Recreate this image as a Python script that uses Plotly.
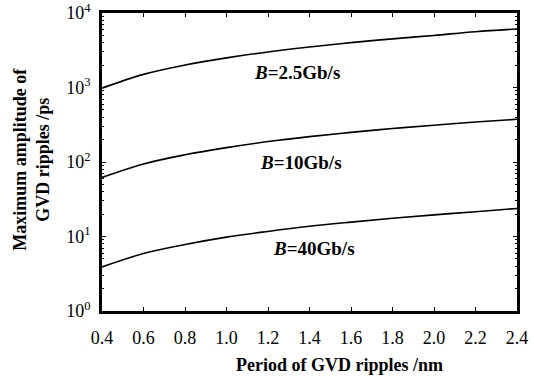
import math
import plotly.graph_objects as go

period = [0.4, 0.6, 0.8, 1.0, 1.2, 1.4, 1.6, 1.8, 2.0, 2.2, 2.4]
amp_2_5 = [980, 1500, 2000, 2500, 3000, 3500, 4000, 4500, 5000, 5600, 6100]
amp_10 = [62, 94, 125, 156, 188, 219, 250, 281, 312, 344, 375]
amp_40 = [3.9, 5.9, 7.8, 9.8, 11.7, 13.7, 15.6, 17.6, 19.5, 21.5, 23.8]

labels = ["<i>B</i>=2.5Gb/s", "<i>B</i>=10Gb/s", "<i>B</i>=40Gb/s"]
label_x = [1.34, 1.36, 1.42]
label_y = [1600, 97, 7.0]

x_title = "Period of GVD ripples /nm"
y_title = "Maximum amplitude of<br>GVD ripples /ps"

y_tickvals = [1, 10, 100, 1000, 10000]
y_ticktext = ["10<sup>0</sup>", "10<sup>1</sup>", "10<sup>2</sup>", "10<sup>3</sup>", "10<sup>4</sup>"]
x_tickvals = period
x_ticktext = ["%.1f" % v for v in period]

minor_y = [m * 10 ** d for d in range(4) for m in range(2, 10)]

FONT = "Liberation Serif, Times New Roman, serif"

fig = go.Figure()
for ys in (amp_2_5, amp_10, amp_40):
    fig.add_trace(go.Scatter(x=period, y=ys, mode="lines",
                             line=dict(color="black", width=1.6, shape="spline"),
                             showlegend=False))

for t, x, y in zip(labels, label_x, label_y):
    fig.add_annotation(x=x, y=math.log10(y), yref="y", xref="x", text="<b>" + t + "</b>",
                       showarrow=False, font=dict(family=FONT, size=19, color="black"))

# axis titles placed precisely as paper annotations
fig.add_annotation(x=0.573, y=-0.180, xref="paper", yref="paper", text="<b>" + x_title + "</b>",
                   showarrow=False, xanchor="center", yanchor="middle",
                   font=dict(family=FONT, size=18, color="black"))
fig.add_annotation(x=-0.172, y=0.51, xref="paper", yref="paper", text="<b>" + y_title + "</b>",
                   showarrow=False, xanchor="center", yanchor="middle", textangle=-90,
                   font=dict(family=FONT, size=18, color="black"))

fig.update_xaxes(range=[0.4, 2.4], tickvals=x_tickvals, ticktext=x_ticktext,
                 ticks="inside", ticklen=4, tickwidth=1.2, tickcolor="black",
                 showline=True, linecolor="black", linewidth=2.5, mirror="ticks",
                 showgrid=False, zeroline=False, automargin=False, ticklabelstandoff=9,
                 ticklabeloverflow="allow",
                 tickfont=dict(family=FONT, size=18, color="black"))
fig.update_yaxes(type="log", range=[0, 4], tickvals=y_tickvals, ticktext=y_ticktext,
                 ticks="inside", ticklen=4, tickwidth=1.2, tickcolor="black",
                 minor=dict(tickvals=minor_y, ticks="inside", ticklen=2, tickcolor="black"),
                 showline=True, linecolor="black", linewidth=2.5, mirror="ticks",
                 showgrid=False, zeroline=False, automargin=False, ticklabelstandoff=5,
                 ticklabeloverflow="allow",
                 tickfont=dict(family=FONT, size=18, color="black"))

fig.update_layout(width=534, height=376, margin=dict(l=102, r=17, t=13, b=65),
                  plot_bgcolor="white", paper_bgcolor="white",
                  font=dict(family=FONT, color="black"))

fig.write_html("out.html", config={"displayModeBar": False},
               post_script="document.body.style.margin='0';")
